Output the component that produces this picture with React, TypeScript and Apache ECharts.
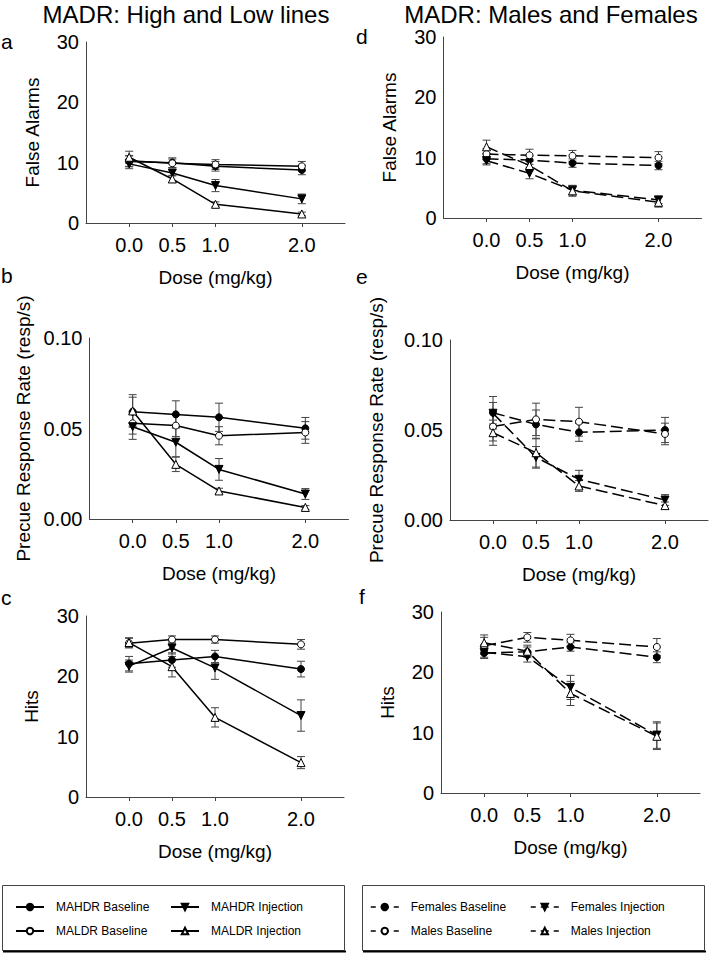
import React, { useEffect, useRef } from "react";
import * as echarts from "echarts";

// ---------- data ----------
const doses = [0, 0.5, 1, 2];
const doseTicks = [0, 0.5, 1, 2];
const countTicks = [0, 10, 20, 30];
const rateTicks = [0, 0.05, 0.1];

const leftNames = ["MAHDR Baseline", "MALDR Baseline", "MAHDR Injection", "MALDR Injection"];
const rightNames = ["Females Baseline", "Males Baseline", "Females Injection", "Males Injection"];

// Panel a: False Alarms (High and Low lines)
const aMeans = [
  [10.2, 10.0, 9.4, 8.8],
  [10.3, 9.9, 9.7, 9.4],
  [9.8, 8.3, 6.2, 4.0],
  [10.9, 7.3, 3.1, 1.5],
];
const aErrs = [
  [0.9, 0.8, 0.8, 0.8],
  [0.9, 0.7, 0.8, 0.8],
  [0.8, 0.5, 1.0, 0.8],
  [1.0, 0.6, 0.4, 0.3],
];

// Panel b: Precue Response Rate (High and Low lines)
const bMeans = [
  [0.0593, 0.0578, 0.0562, 0.0501],
  [0.0529, 0.0516, 0.046, 0.0478],
  [0.051, 0.0424, 0.0274, 0.0138],
  [0.0597, 0.0302, 0.0155, 0.0064],
];
const bErrs = [
  [0.008, 0.0075, 0.0078, 0.006],
  [0.006, 0.006, 0.005, 0.006],
  [0.007, 0.008, 0.006, 0.003],
  [0.009, 0.004, 0.0015, 0.001],
];

// Panel c: Hits (High and Low lines)
const cMeans = [
  [22.1, 22.7, 23.3, 21.2],
  [25.5, 26.1, 26.1, 25.3],
  [21.7, 24.7, 21.4, 13.5],
  [25.6, 21.6, 13.2, 5.7],
];
const cErrs = [
  [1.2, 1.2, 1.0, 1.3],
  [0.8, 0.6, 0.6, 0.8],
  [1.0, 1.0, 1.9, 2.6],
  [0.8, 1.7, 1.6, 1.0],
];

// Panel d: False Alarms (Males and Females)
const dMeans = [
  [9.8, 9.6, 9.1, 8.7],
  [10.6, 10.4, 10.3, 10.0],
  [9.5, 7.4, 4.6, 3.0],
  [11.8, 8.7, 4.5, 2.6],
];
const dErrs = [
  [0.8, 0.7, 0.7, 0.7],
  [0.9, 1.0, 0.9, 1.0],
  [0.7, 0.9, 0.8, 0.6],
  [1.1, 0.9, 0.9, 0.8],
];

// Panel e: Precue Response Rate (Males and Females)
const eMeans = [
  [0.0596, 0.0531, 0.0487, 0.05],
  [0.0519, 0.0559, 0.0546, 0.0478],
  [0.0593, 0.0348, 0.0226, 0.0111],
  [0.0485, 0.0374, 0.0189, 0.008],
];
const eErrs = [
  [0.009, 0.008, 0.005, 0.007],
  [0.008, 0.009, 0.008, 0.006],
  [0.006, 0.006, 0.005, 0.003],
  [0.007, 0.008, 0.003, 0.002],
];

// Panel f: Hits (Males and Females)
const fMeans = [
  [23.2, 23.4, 24.2, 22.5],
  [24.4, 25.8, 25.3, 24.2],
  [23.3, 22.6, 17.5, 9.6],
  [24.9, 23.5, 16.5, 9.4],
];
const fErrs = [
  [0.9, 0.8, 0.7, 0.9],
  [1.4, 0.8, 1.0, 1.4],
  [0.8, 0.9, 2.0, 2.2],
  [1.3, 1.0, 2.0, 2.2],
];

// ---------- layout / style ----------
const FONT = '"Liberation Sans", Arial, sans-serif';
const symbols = ["circle", "circle", "triangle", "triangle"];
const fills = ["#000", "#fff", "#000", "#fff"];
const rotates = [0, 0, 180, 0];

const countFmt = (v: number) => String(Math.round(v));
const rateFmt = (v: number) => v.toFixed(2);

const panels = [
  { letter: "a", lx: 1, ly: 41, means: aMeans, errs: aErrs, names: leftNames, dashed: false, yMax: 30, yInt: 10, yTicks: countTicks, yFmt: countFmt, yName: "False Alarms", nameGap: 44, grid: { left: 86, top: 42, width: 259, height: 181 } },
  { letter: "b", lx: 1, ly: 275, means: bMeans, errs: bErrs, names: leftNames, dashed: false, yMax: 0.1, yInt: 0.05, yTicks: rateTicks, yFmt: rateFmt, yName: "Precue Response Rate (resp/s)", nameGap: 57, grid: { left: 89.5, top: 338, width: 259, height: 181 } },
  { letter: "c", lx: 1, ly: 597, means: cMeans, errs: cErrs, names: leftNames, dashed: false, yMax: 30, yInt: 10, yTicks: countTicks, yFmt: countFmt, yName: "Hits", nameGap: 45, grid: { left: 86, top: 616, width: 258, height: 181 } },
  { letter: "d", lx: 356, ly: 36, means: dMeans, errs: dErrs, names: rightNames, dashed: true, yMax: 30, yInt: 10, yTicks: countTicks, yFmt: countFmt, yName: "False Alarms", nameGap: 45, grid: { left: 443.5, top: 37, width: 258, height: 181 } },
  { letter: "e", lx: 356, ly: 276, means: eMeans, errs: eErrs, names: rightNames, dashed: true, yMax: 0.1, yInt: 0.05, yTicks: rateTicks, yFmt: rateFmt, yName: "Precue Response Rate (resp/s)", nameGap: 64, grid: { left: 450, top: 340, width: 258, height: 180 } },
  { letter: "f", lx: 359, ly: 596, means: fMeans, errs: fErrs, names: rightNames, dashed: true, yMax: 30, yInt: 10, yTicks: countTicks, yFmt: countFmt, yName: "Hits", nameGap: 44, grid: { left: 441, top: 612, width: 259, height: 181 } },
];

const errorRender = (params: any, api: any) => {
  const x = api.value(0);
  const lo = api.value(1);
  const hi = api.value(2);
  const top = api.coord([x, hi]);
  const bot = api.coord([x, lo]);
  const c = 4;
  const style = { stroke: "#444", lineWidth: 1, fill: "none" };
  return {
    type: "group",
    children: [
      { type: "line", shape: { x1: top[0], y1: top[1], x2: bot[0], y2: bot[1] }, style },
      { type: "line", shape: { x1: top[0] - c, y1: top[1], x2: top[0] + c, y2: top[1] }, style },
      { type: "line", shape: { x1: bot[0] - c, y1: bot[1], x2: bot[0] + c, y2: bot[1] }, style },
    ],
  };
};

function buildOption() {
  const series: any[] = [];
  panels.forEach((p, i) => {
    const errData: number[][] = [];
    p.names.forEach((name, j) => {
      doses.forEach((d, k) => {
        errData.push([d, p.means[j][k] - p.errs[j][k], p.means[j][k] + p.errs[j][k]]);
      });
    });
    series.push({
      type: "custom",
      xAxisIndex: i,
      yAxisIndex: i,
      data: errData,
      encode: { x: 0, y: [1, 2] },
      renderItem: errorRender,
      silent: true,
      z: 2,
    });
    p.names.forEach((name, j) => {
      series.push({
        type: "line",
        name,
        xAxisIndex: i,
        yAxisIndex: i,
        data: doses.map((d, k) => [d, p.means[j][k]]),
        symbol: symbols[j],
        symbolSize: j >= 2 ? 8 : 7,
        symbolRotate: rotates[j],
        showAllSymbol: true,
        itemStyle: { color: fills[j], borderColor: "#000", borderWidth: 1 },
        lineStyle: { color: "#000", width: 1.5, type: p.dashed ? [12, 5] : "solid" },
        emphasis: { disabled: true },
        silent: true,
        z: 3,
      });
    });
  });

  const axisLineStyle = { color: "#444", width: 1 };
  const nameStyle = { fontSize: 19, color: "#000", fontFamily: FONT };

  const legendCommon = {
    orient: "horizontal",
    padding: 0,
    itemWidth: 28,
    itemHeight: 8,
    selectedMode: false,
    textStyle: { fontSize: 12, color: "#000", fontFamily: FONT, padding: [0, 0, 0, 7] },
    z: 10,
  };
  const legends: any[] = [];
  leftNames.forEach((n, j) => {
    legends.push({ ...legendCommon, data: [n], left: j >= 2 ? 170 : 15, top: (j % 2 === 0 ? 908 : 932) - 7, lineStyle: { width: 2 } });
  });
  rightNames.forEach((n, j) => {
    legends.push({ ...legendCommon, data: [n], left: j >= 2 ? 530 : 370, top: (j % 2 === 0 ? 908 : 932) - 7, lineStyle: { width: 1.5, type: [5, 5, 8, 5] } });
  });

  const graphics: any[] = [
    { type: "text", x: 186, y: 14, z: 5, style: { text: "MADR: High and Low lines", fontSize: 24, fontFamily: FONT, fill: "#000", align: "center", verticalAlign: "middle" } },
    { type: "text", x: 551, y: 14, z: 5, style: { text: "MADR: Males and Females", fontSize: 24, fontFamily: FONT, fill: "#000", align: "center", verticalAlign: "middle" } },
    { type: "rect", z: 0, shape: { x: 2.5, y: 885.5, width: 342, height: 65 }, style: { fill: "#fff", stroke: "#444", lineWidth: 1 } },
    { type: "line", z: 1, shape: { x1: 3, y1: 951.5, x2: 346, y2: 951.5 }, style: { stroke: "#000", lineWidth: 2 } },
    { type: "rect", z: 0, shape: { x: 362.5, y: 885.5, width: 342, height: 65 }, style: { fill: "#fff", stroke: "#444", lineWidth: 1 } },
    { type: "line", z: 1, shape: { x1: 363, y1: 951.5, x2: 706, y2: 951.5 }, style: { stroke: "#000", lineWidth: 2 } },
  ];
  panels.forEach((p) => {
    graphics.push({ type: "text", x: p.lx, y: p.ly, z: 5, style: { text: p.letter, fontSize: 21, fontFamily: FONT, fill: "#000", align: "left", verticalAlign: "middle" } });
  });

  return {
    animation: false,
    backgroundColor: "#fff",
    textStyle: { fontFamily: FONT },
    grid: panels.map((p) => ({ ...p.grid, containLabel: false, outerBoundsMode: "none" })),
    xAxis: panels.map((p, i) => ({
      type: "value",
      gridIndex: i,
      min: -0.5,
      max: 2.5,
      axisLine: { show: true, onZero: false, lineStyle: axisLineStyle },
      axisTick: { show: true, customValues: doseTicks, length: 4, inside: false, lineStyle: axisLineStyle },
      axisLabel: { customValues: doseTicks, formatter: (v: number) => v.toFixed(1), fontSize: 20, color: "#000", fontFamily: FONT, margin: 12 },
      splitLine: { show: false },
      name: "Dose (mg/kg)",
      nameLocation: "middle",
      nameGap: 45,
      nameTextStyle: nameStyle,
    })),
    yAxis: panels.map((p, i) => ({
      type: "value",
      gridIndex: i,
      min: 0,
      max: p.yMax,
      interval: p.yInt,
      axisLine: { show: true, onZero: false, lineStyle: axisLineStyle },
      axisTick: { show: false },
      axisLabel: { customValues: p.yTicks, formatter: p.yFmt, fontSize: 20, color: "#000", fontFamily: FONT, margin: 7 },
      splitLine: { show: false },
      name: p.yName,
      nameLocation: "middle",
      nameGap: p.nameGap,
      nameTextStyle: nameStyle,
    })),
    legend: legends,
    graphic: graphics,
    series,
  };
}

export default function App() {
  const ref = useRef<HTMLDivElement>(null);
  useEffect(() => {
    if (!ref.current) return;
    const chart = echarts.init(ref.current, null, { renderer: "svg" });
    chart.setOption(buildOption() as any);
    return () => chart.dispose();
  }, []);
  return (
    <div
      ref={ref}
      style={{ position: "absolute", left: 0, top: 0, width: 710, height: 953, background: "#fff" }}
    />
  );
}
